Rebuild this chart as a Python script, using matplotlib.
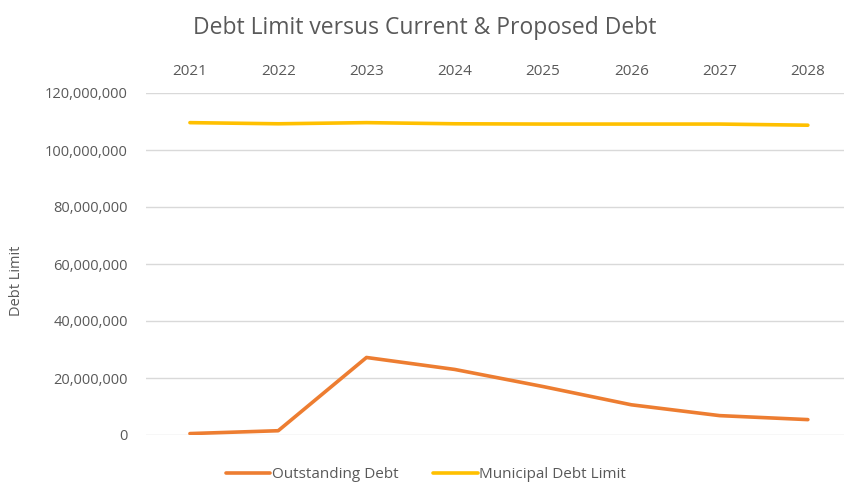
import matplotlib
matplotlib.use("Agg")
import matplotlib.pyplot as plt
from matplotlib.ticker import FuncFormatter, MultipleLocator

years = ["2021", "2022", "2023", "2024", "2025", "2026", "2027", "2028"]
outstanding_debt = [0.5e6, 1.5e6, 27.2e6, 23.0e6, 17.0e6, 10.6e6, 6.8e6, 5.4e6]
municipal_debt_limit = [109.6e6, 109.2e6, 109.6e6, 109.2e6, 109.1e6, 109.1e6, 109.1e6, 108.7e6]

plt.rcParams['font.family'] = ['Open Sans', 'DejaVu Sans']
gray = '#595959'

W, H = 844, 482
fig = plt.figure(figsize=(W/100, H/100), dpi=100)
left_px, right_px = 145.8, 852.0
top_px, bot_px = 93.0, 435.0
ax = fig.add_axes([left_px/W, 1-bot_px/H, (right_px-left_px)/W, (bot_px-top_px)/H])

x = list(range(len(years)))
ax.plot(x, outstanding_debt, color='#ED7D31', lw=2.6, solid_capstyle='round', label='Outstanding Debt', zorder=3)
ax.plot(x, municipal_debt_limit, color='#FFC000', lw=2.6, solid_capstyle='round', label='Municipal Debt Limit', zorder=3)

ax.set_xlim(-0.5, len(years)-0.5)
ax.set_ylim(0, 120e6)
ax.yaxis.set_major_locator(MultipleLocator(20e6))
ax.yaxis.set_major_formatter(FuncFormatter(lambda v, p: f"{int(v):,}"))
ax.grid(axis='y', color='#d9d9d9', lw=1)
ax.set_axisbelow(True)
for s in ax.spines.values():
    s.set_visible(False)

ax.set_xticks(x)
ax.set_xticklabels(years)
ax.xaxis.tick_top()
ax.tick_params(axis='x', length=0, pad=10, labelsize=11, labelcolor=gray)
ax.tick_params(axis='y', length=0, pad=13, labelsize=10.5, labelcolor=gray)

fig.text(17/W, 1-281/H, 'Debt Limit', rotation=90, ha='center', va='center', fontsize=10.5, color=gray)
fig.text(425/W, 1-28/H, 'Debt Limit versus Current & Proposed Debt', ha='center', va='center', fontsize=16.5, color=gray)

fig.legend(loc='center', bbox_to_anchor=(426/W, 1-475/H), ncol=2, frameon=False, fontsize=11,
           labelcolor=gray, handlelength=2.9, handletextpad=0.1, columnspacing=2.3)

fig.savefig('out.png', dpi=100)
